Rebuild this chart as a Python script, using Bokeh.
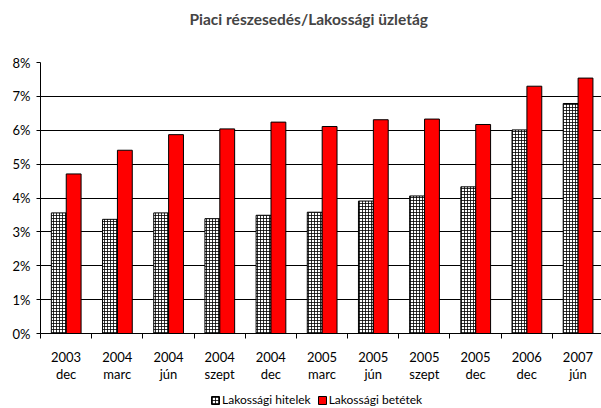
from bokeh.plotting import figure
from bokeh.layouts import column
from bokeh.models import (ColumnDataSource, FixedTicker, LinearAxis, Legend, LegendItem,
                          Title, Range1d, PrintfTickFormatter, Grid)
from bokeh.embed import file_html
from bokeh.resources import INLINE
from bokeh.transform import dodge

# ---- data ----
years = ["2003", "2004", "2004", "2004", "2004", "2005", "2005", "2005", "2005", "2006", "2007"]
months = ["dec", "marc", "jún", "szept", "dec", "marc", "jún", "szept", "dec", "dec", "jún"]
hitelek = [3.56, 3.37, 3.56, 3.39, 3.49, 3.58, 3.91, 4.06, 4.33, 6.01, 6.79]
betetek = [4.71, 5.41, 5.87, 6.04, 6.24, 6.11, 6.31, 6.33, 6.17, 7.30, 7.54]
y_ticks = [0, 1, 2, 3, 4, 5, 6, 7, 8]
series_names = ["Lakossági hitelek", "Lakossági betétek"]
title_text = "Piaci részesedés/Lakossági üzletág"

FONT = "Lato"
n = len(years)
pos = list(range(n))
centers = [i + 0.5 for i in pos]

src = ColumnDataSource(dict(pos=pos, hitelek=hitelek, betetek=betetek))

HATCH = dict(fill_color="white", hatch_pattern="+", hatch_scale=3, hatch_weight=0.8,
             hatch_color="black", line_color="black", line_width=1)
RED = dict(fill_color="#FF0000", line_color="black", line_width=1)

p = figure(width=601, height=386, output_backend="svg", toolbar_location=None,
           x_range=Range1d(0, 10.96), y_range=Range1d(0, 8),
           x_axis_type=None, y_axis_type=None,
           min_border_left=40, min_border_right=0, min_border_top=62, min_border_bottom=53,
           outline_line_color=None, background_fill_color="white", border_fill_color="white")

# title
p.title.text = title_text
p.title.text_font = FONT
p.title.text_font_size = "15.5px"
p.title.text_font_style = "bold"
p.title.align = "left"
p.title.offset = 149
p.title.standoff = 0
p.add_layout(Title(text=" ", text_font_size="1px", standoff=32), "above")

# grid
yticker = FixedTicker(ticks=y_ticks)
p.add_layout(Grid(dimension=1, ticker=yticker, grid_line_color="black", grid_line_width=1))

# bars
r1 = p.vbar(x=dodge("pos", 0.357, range=p.x_range), top="hitelek", width=0.29, source=src, **HATCH)
r2 = p.vbar(x=dodge("pos", 0.648, range=p.x_range), top="betetek", width=0.29, source=src, **RED)

# y axis
yax = LinearAxis(ticker=yticker, formatter=PrintfTickFormatter(format="%d%%"),
                 major_tick_out=4, major_tick_in=0, minor_tick_line_color=None,
                 axis_line_color="black", major_tick_line_color="black",
                 major_label_text_font=FONT, major_label_text_font_size="13px",
                 major_label_text_color="black", major_label_standoff=6)
p.add_layout(yax, "left")

# x axis: years + category boundary ticks
xax1 = LinearAxis(ticker=FixedTicker(ticks=centers, minor_ticks=list(range(n + 1))),
                  major_label_overrides={c: y for c, y in zip(centers, years)},
                  major_tick_line_color=None, major_tick_out=0, major_tick_in=0,
                  minor_tick_out=5, minor_tick_in=0, minor_tick_line_color="black",
                  axis_line_color="black",
                  major_label_text_font=FONT, major_label_text_font_size="13px",
                  major_label_text_color="black", major_label_standoff=13)
p.add_layout(xax1, "below")
xax2 = LinearAxis(ticker=FixedTicker(ticks=centers, minor_ticks=[]),
                  major_label_overrides={c: m for c, m in zip(centers, months)},
                  major_tick_line_color=None, major_tick_out=0, major_tick_in=0,
                  minor_tick_line_color=None, axis_line_color=None,
                  major_label_text_font=FONT, major_label_text_font_size="13px",
                  major_label_text_color="black", major_label_standoff=1)
p.add_layout(xax2, "below")

# legend strip (its bars sit far outside its visible x range; only the legend shows)
lg = figure(width=601, height=22, output_backend="svg", toolbar_location=None,
            x_range=Range1d(-100, -90), y_range=Range1d(0, 8),
            x_axis_type=None, y_axis_type=None,
            min_border_left=0, min_border_right=0, min_border_top=0, min_border_bottom=0,
            outline_line_color=None, background_fill_color="white", border_fill_color="white")
l1 = lg.vbar(x=dodge("pos", 0.357, range=lg.x_range), top="hitelek", width=0.29, source=src, **HATCH)
l2 = lg.vbar(x=dodge("pos", 0.648, range=lg.x_range), top="betetek", width=0.29, source=src, **RED)
legend = Legend(items=[LegendItem(label=series_names[0], renderers=[l1]),
                       LegendItem(label=series_names[1], renderers=[l2])],
                orientation="horizontal", location=(170, 1),
                border_line_color=None, background_fill_alpha=0,
                glyph_width=10, glyph_height=10, label_standoff=2, spacing=6,
                padding=0, margin=0, label_text_font=FONT, label_text_font_size="12px",
                label_text_color="black", label_height=12)
lg.add_layout(legend, "center")

open("out.html", "w").write(file_html(column(p, lg, spacing=0), INLINE))
